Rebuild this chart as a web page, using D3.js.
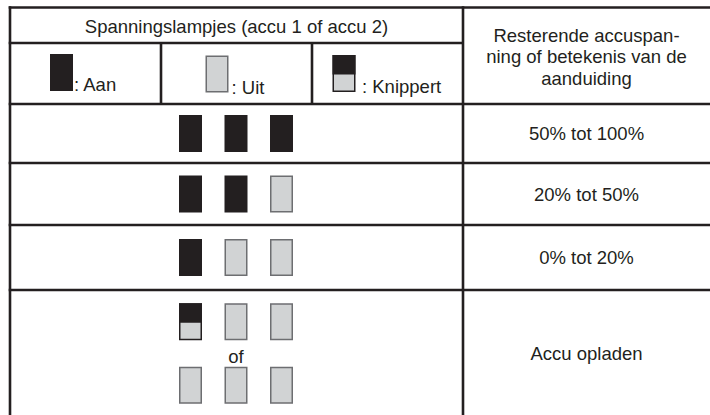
<!DOCTYPE html>
<html>
<head>
<meta charset="utf-8">
<script src="https://cdn.jsdelivr.net/npm/d3@7"></script>
<style>
  body { margin: 0; background: #fff; }
  text { font-family: "Liberation Sans", Arial, Helvetica, sans-serif; fill: #231f20; }
</style>
</head>
<body>
<div id="chart"></div>
<script>
// table content
const headTitle = 'Spanningslampjes (accu 1 of accu 2)';
const headRight = ['Resterende accuspan-', 'ning of betekenis van de', 'aanduiding'];
const legend = [
  {state: 'on', label: ': Aan'},
  {state: 'off', label: ': Uit'},
  {state: 'blink', label: ': Knippert'}
];
// lamp states per row, a row may have several lamp lines
const lampRows = [
  [['on', 'on', 'on']],
  [['on', 'on', 'off']],
  [['on', 'off', 'off']],
  [['blink', 'off', 'off'], ['off', 'off', 'off']]
];
const rowLabels = ['50% tot 100%', '20% tot 50%', '0% tot 20%', 'Accu opladen'];
const joinWord = 'of';

const width = 710, height = 415;
const ink = '#231f20', grey = '#d1d3d4', greyLine = '#6d6e71';
const lampW = 23, lampH = 37;

const svg = d3.select('#chart').append('svg')
  .attr('width', width).attr('height', height);

// x layout
const left = 10, split = 463;
const subCol = d3.scaleBand().domain(d3.range(legend.length)).range([left, split]);
const lampX = d3.scalePoint().domain([0, 1, 2]).range([190.5, 281.5]);

// y layout: body rows in units, the last row holds two lamp lines
const rowUnits = lampRows.map(r => r.length);
const unitEdges = [0].concat(Array.from(d3.cumsum(rowUnits)));
const y = d3.scaleLinear().domain([0, 1, 2, 3, 5]).range([104, 163, 225, 290, 417]);
const headTop = 7.5, headMid = 43;

// lamp drawing
const drawLamp = (g, state, cx, cy) => {
  const x0 = cx - lampW / 2, y0 = cy - lampH / 2;
  if (state === 'on') {
    g.append('rect').attr('x', x0).attr('y', y0).attr('width', lampW).attr('height', lampH)
      .attr('fill', ink);
  } else if (state === 'off') {
    g.append('rect').attr('x', x0 + 0.75).attr('y', y0 + 0.75)
      .attr('width', lampW - 1.5).attr('height', lampH - 1.5)
      .attr('fill', grey).attr('stroke', greyLine).attr('stroke-width', 1.5);
  } else {
    g.append('rect').attr('x', x0 + 0.75).attr('y', y0 + 0.75)
      .attr('width', lampW - 1.5).attr('height', lampH - 1.5)
      .attr('fill', grey).attr('stroke', ink).attr('stroke-width', 1.5);
    g.append('rect').attr('x', x0).attr('y', y0).attr('width', lampW).attr('height', lampH / 2 + 1)
      .attr('fill', ink);
  }
};

// header texts
svg.append('text')
  .attr('x', (left + split) / 2).attr('y', 32.5)
  .attr('text-anchor', 'middle').attr('font-size', 18.5)
  .text(headTitle);

svg.append('g').selectAll('text')
  .data(headRight).enter().append('text')
  .attr('x', (split + width) / 2)
  .attr('y', (d, i) => 41.5 + i * 21.5)
  .attr('text-anchor', 'middle').attr('font-size', 18.5)
  .text(d => d);

// legend: lamp offset from the column centre, label gap, label baseline
const legendPlace = [
  {dx: -24, cy: 72.5, gap: 1, base: 90.7},
  {dx: -19.5, cy: 74, gap: 3, base: 94},
  {dx: -43.5, cy: 73.5, gap: 6.5, base: 93.3}
];
const legG = svg.append('g');
legend.forEach((d, i) => {
  const p = legendPlace[i];
  const cx = subCol(i) + subCol.bandwidth() / 2 + p.dx;
  drawLamp(legG, d.state, cx, p.cy);
  legG.append('text')
    .attr('x', cx + lampW / 2 + p.gap).attr('y', p.base)
    .attr('font-size', 18.5)
    .text(d.label);
});

// body rows
lampRows.forEach((lines, r) => {
  const g = svg.append('g').attr('class', 'row');
  lines.forEach((states, l) => {
    const cy = y(unitEdges[r] + l + 0.5);
    states.forEach((s, k) => drawLamp(g, s, lampX(k), cy));
  });
  if (lines.length > 1) {
    g.append('text')
      .attr('x', lampX(1)).attr('y', y(unitEdges[r] + 1) + 9.5)
      .attr('text-anchor', 'middle').attr('font-size', 18.5)
      .text(joinWord);
  }
  const mid = (y(unitEdges[r]) + y(unitEdges[r + 1])) / 2;
  g.append('text')
    .attr('x', (split + width) / 2).attr('y', mid + 6.5)
    .attr('text-anchor', 'middle').attr('font-size', 18.5)
    .text(rowLabels[r]);
});

// grid lines
const grid = svg.append('g').attr('stroke', ink).attr('stroke-width', 2.6);
const hLine = (x1, x2, yy) => grid.append('line').attr('x1', x1).attr('x2', x2).attr('y1', yy).attr('y2', yy);
const vLine = (xx, y1, y2) => grid.append('line').attr('x1', xx).attr('x2', xx).attr('y1', y1).attr('y2', y2);

hLine(left - 1.3, width, headTop);
hLine(left - 1.3, split, headMid);
unitEdges.slice(0, -1).forEach(u => hLine(left - 1.3, width, y(u)));
vLine(left, headTop - 1.3, height);
vLine(split, headTop - 1.3, height);
d3.range(1, legend.length).forEach(i => vLine(subCol(i), headMid, y(0)));
</script>
</body>
</html>
